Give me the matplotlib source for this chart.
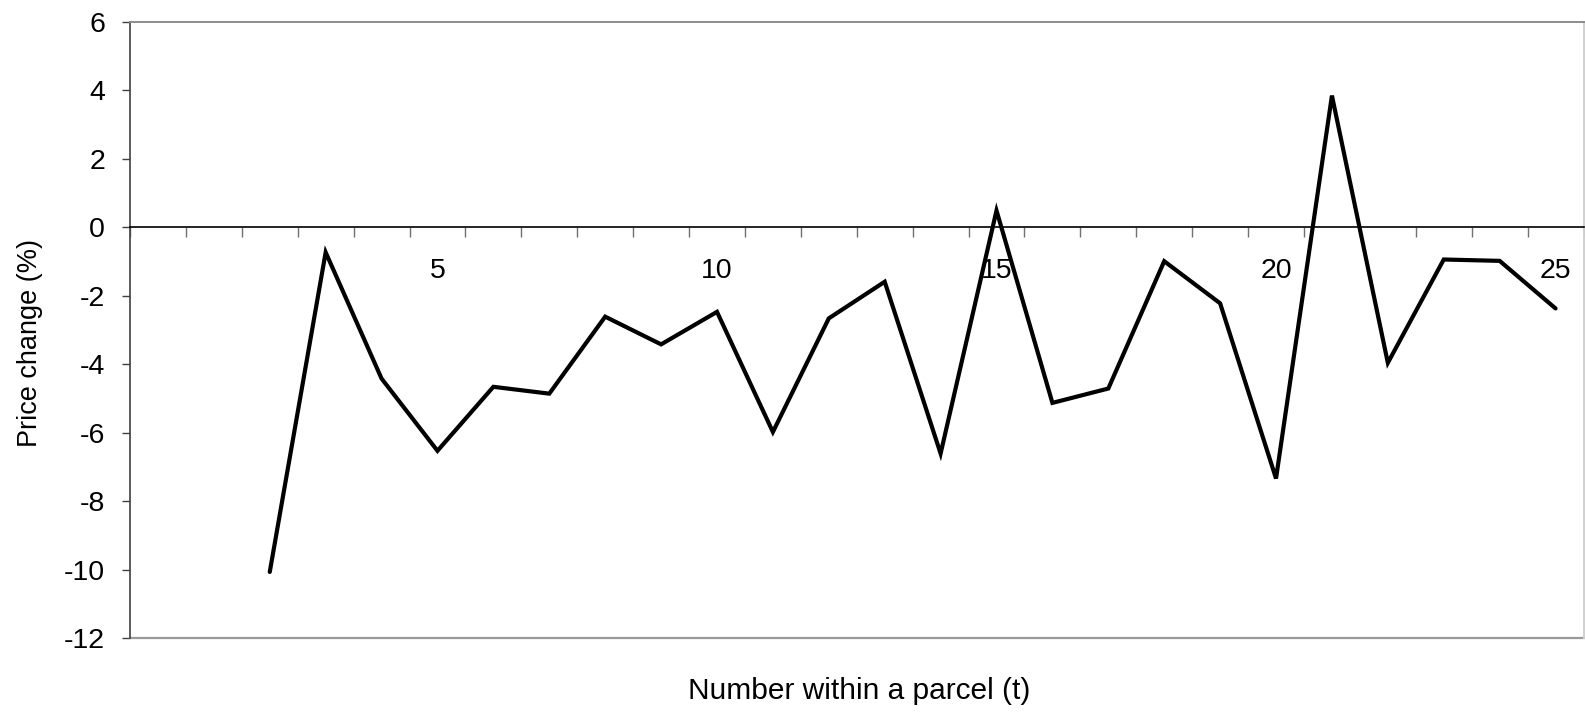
import numpy as np
import matplotlib.pyplot as plt
from matplotlib.ticker import FixedLocator, NullFormatter

plt.rcParams['font.family'] = ['Liberation Sans', 'DejaVu Sans']

# Values
numbers = np.arange(2, 26)
price_change = [-10.07, -0.73, -4.42, -6.53, -4.66, -4.86, -2.61, -3.42, -2.47,
                -5.98, -2.66, -1.59, -6.61, 0.49, -5.13, -4.71, -0.99, -2.22,
                -7.34, 3.85, -3.96, -0.94, -0.98, -2.37]
x_labels = [5, 10, 15, 20, 25]
y_ticks = np.arange(-12, 7, 2)

fig = plt.figure(figsize=(15.85, 7.12), dpi=100)
ax = fig.add_axes([130 / 1585, 1 - 638 / 712, 1453.5 / 1585, 616 / 712])

ax.plot(numbers, price_change, color='black', linewidth=3.0,
        solid_capstyle='round', solid_joinstyle='miter')

ax.set_xlim(-0.5, 25.5)
ax.set_ylim(-12, 6)

# x axis sits on the zero line, with tick marks between categories
ax.spines['bottom'].set_position(('data', 0))
ax.spines['bottom'].set_color('black')
ax.spines['bottom'].set_linewidth(1.2)
ax.spines['top'].set_color('#8c8c8c')
ax.spines['top'].set_linewidth(1.4)
ax.spines['right'].set_color('#d0d0d0')
ax.spines['right'].set_linewidth(1.4)
ax.spines['left'].set_color('#404040')
ax.spines['left'].set_linewidth(1.2)
ax.axhline(-12, color='#9a9a9a', linewidth=1.6, clip_on=False)

ax.set_xticks(x_labels)
ax.set_xticklabels([str(v) for v in x_labels], fontsize=20.5)
ax.xaxis.set_minor_locator(FixedLocator(np.arange(-0.5, 26, 1)))
ax.xaxis.set_minor_formatter(NullFormatter())
ax.tick_params(axis='x', which='major', length=0, pad=22)
ax.tick_params(axis='x', which='minor', length=7.5, direction='out',
               color='#707070', width=1.0)

ax.set_yticks(y_ticks)
ax.set_yticklabels([str(v) for v in y_ticks], fontsize=20.5)
ax.tick_params(axis='y', length=6, direction='out', color='#404040',
               width=1.0, pad=12)

fig.text(859 / 1585, 1 - 691 / 712, 'Number within a parcel (t)',
         ha='center', va='center', fontsize=21.5)
fig.text(30 / 1585, 1 - 343 / 712, 'Price change (%)', rotation=90,
         ha='center', va='center', fontsize=19.5)

fig.savefig('out.png', dpi=100)
